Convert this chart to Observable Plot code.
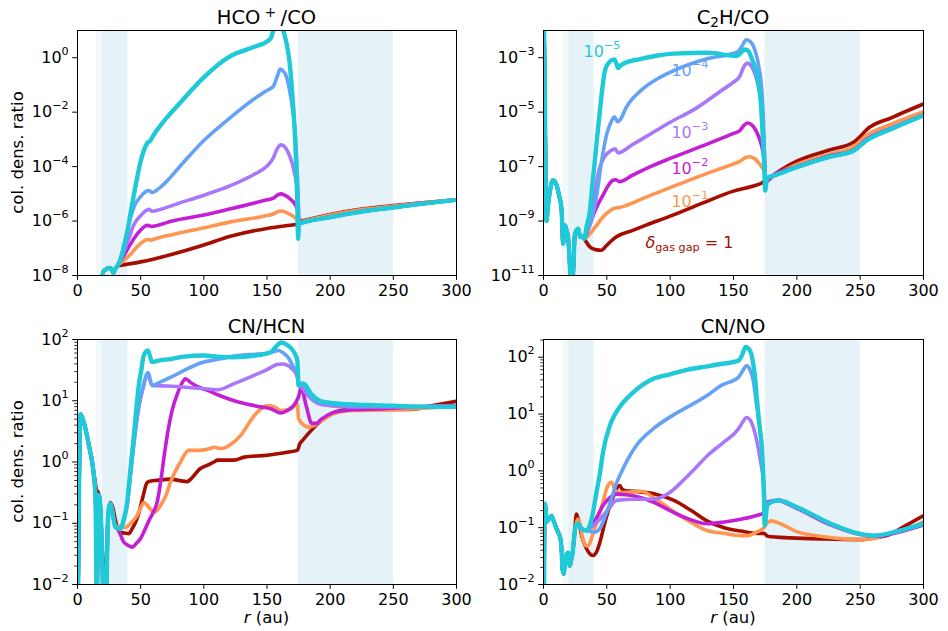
<!DOCTYPE html>
<html><head><meta charset="utf-8">
<script src="https://cdn.jsdelivr.net/npm/d3@7"></script>
<script src="https://cdn.jsdelivr.net/npm/@observablehq/plot@0.6"></script>
<style>
html,body{margin:0;padding:0;background:#fff}
#fig{position:relative;width:948px;height:631px;background:#fff;overflow:hidden;font-family:"DejaVu Sans"}
#fig svg{position:absolute}
</style></head><body><div id="fig"></div>
<script>
// ---- shared categories / styling lists ----
const deltaLabels = ["1", "1e-1", "1e-2", "1e-3", "1e-4", "1e-5"];
const colors = ["#a30e00", "#fe9651", "#c41fd4", "#a877fa", "#65a2f6", "#1ec9d8"];
const xTicks = [0, 50, 100, 150, 200, 250, 300];
const shoulderBand = [[15, 20]];
const gapBands = [[20, 40], [175, 250]];

// ---- values as [r (au), log10(column density ratio)] ----
// HCO+/CO
const hcoInner = [[19.5,-8.1],[20.5,-7.85],[23,-7.76],[26,-7.72],[28.5,-7.9],[30,-7.75],[31.5,-7.65]];
const hcoTail = [[180,-6.03],[200,-5.86],[225,-5.65],[250,-5.5],[275,-5.35],[300,-5.22]];
const hcoD1 = [[35,-7.62],[40,-7.58],[50,-7.5],[60,-7.4],[75,-7.22],[100,-6.88],[121,-6.56],[150,-6.27],[165,-6.17],[174,-6.12],[175,-6.02],[180,-5.97],[200,-5.76],[225,-5.56],[250,-5.43],[275,-5.32],[300,-5.22]];
const hcoD01 = [[36,-7.48],[42,-7.22],[47,-6.95],[52,-6.75],[55.5,-6.68],[58,-6.7],[61,-6.66],[75,-6.5],[100,-6.25],[121,-6.03],[150,-5.8],[155,-5.74],[159,-5.65],[162,-5.63],[166,-5.7],[170,-5.8],[173,-5.92],[175,-6.04],[180,-5.99],[200,-5.78],[225,-5.58],[250,-5.45],[275,-5.33],[300,-5.22]];
const hcoD001 = [[35,-7.4],[40,-7.0],[45,-6.62],[50,-6.33],[53,-6.2],[55.7,-6.16],[58.5,-6.2],[62,-6.17],[75,-6.0],[100,-5.78],[121,-5.55],[150,-5.22],[155,-5.16],[158.5,-5.04],[161,-5.0],[164,-5.05],[168,-5.18],[172,-5.37],[174.5,-5.65],[175.2,-6.05],[180,-6.02],[200,-5.84],[225,-5.64],[250,-5.5],[275,-5.35],[300,-5.22]];
const hcoD1e3 = [[35,-7.3],[40,-6.72],[45,-6.1],[50,-5.8],[54,-5.62],[56.5,-5.57],[59,-5.64],[65,-5.58],[80,-5.35],[100,-5.05],[121,-4.7],[140,-4.28],[150,-3.98],[155,-3.68],[158,-3.35],[161,-3.2],[164,-3.27],[167,-3.5],[170,-3.9],[172.5,-4.4],[174.5,-5.0],[175.3,-6.1]];
const hcoD1e4 = [[35,-7.2],[40,-6.23],[45,-5.45],[50,-5.1],[54,-4.92],[56.5,-4.88],[59,-4.95],[65,-4.78],[70,-4.57],[80,-4.05],[100,-3.04],[121,-2.2],[140,-1.51],[150,-1.2],[155,-1.05],[158,-0.7],[160.5,-0.42],[163,-0.5],[165,-0.65],[167.5,-1.1],[170,-1.81],[172.5,-2.92],[174.4,-4.75],[175.3,-6.1]];
const hcoD1e5 = [[34,-7.45],[37,-6.9],[39.5,-6.4],[42,-5.7],[44.6,-5.05],[47,-4.45],[50,-3.8],[53,-3.35],[55.5,-3.12],[57.5,-3.05],[60,-2.86],[70,-2.24],[80,-1.72],[100,-0.72],[120,0.03],[140,0.4],[150,0.6],[153,0.72],[155,1.0],[158,1.35],[161,1.35],[163,1.0],[168.5,-0.45],[170.4,-1.57],[172.5,-3.2],[173.9,-5.2],[174.7,-6.65],[175.3,-6.1]];

// C2H/CO
const c2hInner = [[0.3,-1.5],[1,-4],[1.8,-8.0],[2.4,-9.0],[3.5,-8.45],[5,-7.93],[7.5,-7.5],[10.3,-7.68],[12.5,-8.1],[14.2,-8.54],[15.5,-9.83],[16.8,-9.15],[18,-9.3],[19.5,-9.64],[21,-10.8],[22,-11.6],[23.5,-10.8],[24.7,-9.52],[26,-9.35],[27.5,-9.28],[28.8,-9.58],[30,-9.55],[32,-9.65]];
const c2hTail = [[176.5,-7.42],[182,-7.33],[200,-7.02],[225,-6.65],[245,-6.41],[255,-6.04],[275,-5.61],[300,-5.12]];
const c2hD1 = [[36.6,-9.95],[41,-10.05],[45.8,-10.07],[49.7,-9.9],[53,-9.75],[57.6,-9.58],[70,-9.35],[81,-9.15],[100,-8.82],[125,-8.35],[150,-7.9],[165,-7.72],[172,-7.61],[175,-7.52],[182,-7.3],[190,-7.05],[200,-6.8],[225,-6.4],[245,-6.1],[250,-5.9],[255,-5.65],[275,-5.2],[300,-4.7]];
const c2hD01 = [[37,-9.45],[42,-9.15],[48,-8.8],[53,-8.6],[56,-8.53],[60,-8.5],[81,-8.12],[100,-7.77],[125,-7.32],[150,-6.9],[155,-6.81],[159,-6.68],[163,-6.64],[167,-6.72],[171,-6.93],[174,-7.15],[175.5,-7.5],[182,-7.32],[200,-6.92],[225,-6.55],[245,-6.26],[255,-5.86],[275,-5.43],[300,-4.98]];
const c2hD001 = [[36,-9.2],[40,-8.7],[44,-8.3],[47,-8.05],[51,-7.7],[55,-7.5],[57,-7.48],[60,-7.55],[70,-7.32],[81,-7.07],[100,-6.7],[125,-6.25],[150,-5.78],[155,-5.68],[158,-5.5],[161,-5.4],[164,-5.45],[167,-5.62],[170,-5.92],[173,-6.4],[174.5,-6.9],[175.5,-7.55],[182,-7.3],[200,-7.0],[225,-6.62],[245,-6.38],[255,-6.0],[275,-5.58],[300,-5.1]];
const c2hD1e3 = [[35,-9.1],[38,-8.5],[41,-7.8],[44,-7.1],[48,-6.65],[52,-6.45],[55,-6.37],[56.5,-6.35],[59,-6.5],[62,-6.45],[70,-6.2],[81,-5.9],[100,-5.37],[120,-4.87],[140,-4.22],[150,-3.9],[155,-3.68],[158,-3.35],[161,-3.2],[164,-3.3],[167,-3.6],[170,-4.15],[172.5,-5.0],[174.5,-6.5],[175.5,-7.6]];
const c2hD1e4 = [[35,-9.3],[38,-8.95],[42,-8.05],[45.8,-6.82],[49.7,-5.85],[53,-5.4],[56,-5.17],[58.5,-5.35],[61,-5.25],[65,-4.85],[77,-4.2],[90,-3.77],[103,-3.47],[129,-3.04],[153,-2.79],[157,-2.55],[160,-2.34],[163,-2.4],[166,-2.6],[170,-3.34],[172.5,-4.3],[174,-5.8],[175,-7.88]];
const c2hD1e5 = [[34.5,-9.1],[36.6,-8.65],[38.5,-7.7],[40.5,-6.8],[42.5,-5.85],[44.5,-4.97],[46.5,-4.1],[48.4,-3.5],[50.5,-3.25],[52.4,-3.14],[55.8,-3.06],[57.5,-3.2],[59,-3.38],[61,-3.28],[64,-3.2],[77,-3.04],[90,-2.92],[103,-2.85],[129,-2.82],[153,-2.93],[156,-2.8],[158.5,-2.7],[161,-2.72],[165,-3.1],[169,-3.71],[171.5,-4.6],[173,-5.8],[174.3,-7.0],[175,-7.88]];
// in-panel labels of the C2H/CO panel
const c2hLabelText = ["10^−5", "10^−4", "10^−3", "10^−2", "10^−1", "δ_gas gap = 1"];
const c2hLabelR = [31.6, 101, 101, 101, 101, 80.5];
const c2hLabelExp = [-2.77, -3.5, -5.76, -7.07, -8.3, -9.79];
const c2hLabelSeries = [5, 4, 3, 2, 1, 0];

// CN/HCN
const cnhInner = [[0.4,-2.3],[1.2,-0.5],[2.4,0.78],[5,0.65],[9,0.27],[12.9,-0.22],[14.3,-0.6],[15.2,-2.3],[16,-1.5],[16.9,-0.54],[18,-0.7],[19.5,-1.5],[20.5,-2.3],[22.5,-2.3],[24,-1.0],[24.8,-0.76],[26,-0.68],[27.5,-0.8],[30,-1.06],[31.5,-1.08]];
const cnhD1 = [[0.4,-2.3],[1.2,-0.5],[2.4,0.78],[5,0.65],[9,0.3],[13,-0.18],[15,-0.45],[16.5,-0.5],[18,-0.75],[20,-1.6],[22,-1.9],[24,-1.0],[26,-0.66],[28,-0.75],[30,-0.95],[32,-1.1],[34,-1.15],[37,-1.16],[40.6,-1.17],[43,-1.1],[46,-0.98],[49,-0.8],[52,-0.55],[55,-0.34],[58,-0.31],[63,-0.3],[73.6,-0.28],[80,-0.3],[86.8,-0.32],[90,-0.27],[97,-0.11],[103,-0.05],[108,0.0],[111,0.03],[124,0.03],[132,0.08],[150,0.11],[166,0.16],[174,0.19],[176,0.3],[178,0.35],[190,0.62],[200,0.78],[216,0.86],[243,0.86],[264,0.86],[280,0.92],[300,0.99]];
const cnhD01 = [[32.7,-1.04],[38,-1.07],[42,-1.0],[47,-0.88],[50,-0.75],[52.5,-0.66],[56.5,-0.74],[60.4,-0.82],[63,-0.79],[65.7,-0.71],[70,-0.55],[73.6,-0.33],[81.5,0.0],[88,0.19],[97,0.19],[105,0.22],[108,0.24],[113.5,0.22],[124,0.33],[129,0.43],[140,0.76],[150,0.92],[156,0.9],[161,0.84],[169,0.87],[174,0.95],[175,0.71],[179.4,0.6],[183,0.57],[188,0.6],[193,0.67],[203,0.79],[216,0.84],[243,0.85],[269,0.87],[300,0.91]];
const cnhD001 = [[36.7,-1.31],[40,-1.36],[43.3,-1.39],[46.5,-1.33],[49.9,-1.25],[53,-1.12],[56.5,-0.96],[60,-0.82],[63,-0.66],[66,-0.3],[68.6,0.1],[71,0.43],[75,0.85],[79,1.11],[83,1.3],[85.5,1.36],[89.4,1.3],[95,1.23],[103,1.17],[112,1.09],[124,1.0],[145,0.9],[153,0.87],[161,0.8],[166,0.84],[173,0.98],[175.5,1.1],[177,1.22],[181,0.92],[185.5,0.63],[189,0.63],[193,0.7],[203,0.81],[216,0.85],[243,0.87],[269,0.9],[300,0.92]];
const cnhD1e3 = [[34,-1.09],[36.5,-0.95],[39.3,-0.7],[42,-0.2],[44.6,0.3],[48.5,0.9],[52.5,1.25],[55,1.44],[56,1.42],[59,1.25],[71,1.24],[98,1.2],[111,1.18],[124,1.28],[137,1.39],[150,1.51],[158,1.59],[162,1.6],[166,1.58],[170,1.52],[173,1.44],[175.5,1.28],[178,1.2],[185,1.03],[195,0.93],[216,0.9],[243,0.9],[269,0.9],[300,0.91]];
const cnhD1e4 = [[34,-1.09],[36.5,-0.95],[39.3,-0.7],[42,-0.2],[44.6,0.3],[48.5,0.9],[52.5,1.28],[55,1.44],[56,1.46],[59,1.25],[65,1.3],[73.6,1.38],[86.8,1.52],[98,1.62],[112,1.68],[124,1.73],[150,1.78],[155,1.8],[159,1.82],[163,1.78],[167,1.7],[171,1.55],[174,1.47],[175,1.25],[178,1.28],[185,1.06],[193,0.97],[216,0.92],[269,0.91],[300,0.91]];
const cnhD1e5 = [[34,-1.09],[36.5,-0.95],[39.3,-0.66],[42,-0.1],[44.6,0.43],[46.5,0.85],[48.5,1.25],[50.5,1.5],[52.5,1.74],[55.7,1.82],[57.5,1.72],[59,1.63],[65,1.66],[73.6,1.68],[84,1.72],[100,1.74],[111,1.72],[124,1.71],[145,1.75],[153,1.79],[157,1.88],[161,1.95],[166,1.91],[171.5,1.79],[174,1.66],[175,1.25],[177,1.28],[179,1.28],[185,1.11],[193,0.99],[203,0.96],[230,0.93],[250,0.92],[269,0.9],[300,0.9]];

// CN/NO
const cnoInner = [[0.4,-2.3],[0.8,-0.6],[1.2,-0.58],[2.4,-0.9],[5,-0.82],[6.3,-0.79],[8,-0.88],[10.3,-1.02],[13.4,-1.2],[14.3,-1.4],[15,-1.73],[16,-1.81],[17,-1.6],[18,-1.49],[19.5,-1.44],[20.8,-1.67],[22,-1.55],[23,-1.44],[24.5,-1.1]];
const cnoMid = [[25.5,-0.96],[27.4,-0.93],[30,-1.02],[34,-1.05]];
const cnoTail = [[176.5,-0.61],[180,-0.55],[185.7,-0.52],[200,-0.64],[226.7,-0.93],[250,-1.11],[261,-1.14],[280,-1.06],[300,-0.93]];
const cnoD1 = [[26,-0.76],[28,-0.9],[30,-1.13],[34,-1.37],[37,-1.47],[39.2,-1.49],[42,-1.42],[44.5,-1.26],[48,-0.95],[52.4,-0.61],[56,-0.4],[58,-0.3],[60.3,-0.26],[62,-0.32],[65,-0.35],[76.8,-0.37],[90,-0.42],[103,-0.52],[116,-0.69],[129,-0.88],[142.6,-1.0],[155.8,-1.06],[169,-1.1],[174,-1.1],[177,-1.15],[195,-1.18],[221.6,-1.2],[250,-1.21],[261,-1.18],[271,-1.14],[287,-0.95],[300,-0.79]];
const cnoD01 = [[27,-0.85],[29,-0.95],[31,-1.2],[34,-1.32],[36,-1.3],[38,-1.18],[41,-0.98],[44.5,-0.73],[47,-0.55],[49.7,-0.32],[52,-0.22],[53.7,-0.2],[55.5,-0.28],[57.6,-0.38],[63,-0.38],[76.8,-0.36],[90,-0.52],[103,-0.72],[116,-0.9],[129,-1.05],[142.6,-1.1],[155.8,-1.14],[161,-1.14],[169,-1.07],[174,-1.0],[176,-0.93],[179.2,-0.88],[187,-0.93],[200,-1.07],[221.6,-1.16],[250,-1.21],[261,-1.19],[274,-1.1],[287,-1.02],[300,-0.9]];
const cnoD001 = [[40,-0.9],[47,-0.61],[52,-0.48],[57.6,-0.41],[65,-0.42],[73.4,-0.45],[86.6,-0.55],[100,-0.7],[111.6,-0.82],[129.5,-0.93],[142.6,-0.9],[155.8,-0.85],[169,-0.78],[174,-0.74],[175,-0.7],[176.5,-0.55],[184.4,-0.52],[200,-0.66],[226.7,-0.95],[250,-1.12],[263.6,-1.15],[280,-1.08],[300,-0.95]];
const cnoD1e3 = [[40,-0.95],[47,-0.79],[52,-0.65],[57.6,-0.52],[73.4,-0.5],[86.6,-0.5],[99.7,-0.38],[111.6,-0.14],[120,0.05],[129.5,0.27],[142.6,0.51],[154,0.74],[157,0.85],[160.3,0.94],[163,0.9],[166,0.74],[171,0.21],[174,-0.26],[175,-0.6],[176.5,-0.58],[185.7,-0.52],[200,-0.64],[226.7,-0.93],[250,-1.11],[261,-1.14],[280,-1.06],[300,-0.93]];
const cnoD1e4 = [[40.5,-1.08],[44,-1.03],[47,-0.9],[50,-0.72],[53.7,-0.49],[57,-0.25],[60.3,-0.08],[66,0.18],[73.4,0.45],[86.6,0.74],[100,0.95],[111.6,1.1],[129.5,1.33],[140,1.5],[154,1.65],[157,1.75],[160.3,1.85],[163,1.78],[165.5,1.6],[168,1.2],[170.5,0.8],[172.6,0.33],[174,-0.4],[174.7,-0.96]];
const cnoD1e5 = [[38,-0.85],[41.8,-0.38],[44.5,-0.05],[47,0.33],[52.4,0.8],[56,0.98],[60,1.12],[70.8,1.38],[86.6,1.62],[100,1.7],[111.6,1.77],[129.5,1.84],[139.7,1.88],[154,1.94],[157,2.05],[159.5,2.18],[162,2.15],[164.7,2.0],[166.7,1.7],[168.7,1.21],[170.5,0.8],[172.6,0.33],[174,-0.4],[174.7,-0.96]];

// ---- assemble series (order: delta = 1, 1e-1, ..., 1e-5) ----
const hcoSeries = [
  [...hcoInner, ...hcoD1], [...hcoInner, ...hcoD01], [...hcoInner, ...hcoD001],
  [...hcoInner, ...hcoD1e3, ...hcoTail], [...hcoInner, ...hcoD1e4, ...hcoTail], [...hcoInner, ...hcoD1e5, ...hcoTail]
];
const c2hSeries = [
  [...c2hInner, ...c2hD1], [...c2hInner, ...c2hD01], [...c2hInner, ...c2hD001],
  [...c2hInner, ...c2hD1e3, ...c2hTail], [...c2hInner, ...c2hD1e4, ...c2hTail], [...c2hInner, ...c2hD1e5, ...c2hTail]
];
const cnhSeries = [
  cnhD1, [...cnhInner, ...cnhD01], [...cnhInner, ...cnhD001],
  [...cnhInner, ...cnhD1e3], [...cnhInner, ...cnhD1e4], [...cnhInner, ...cnhD1e5]
];
const cnoSeries = [
  [...cnoInner, ...cnoD1], [...cnoInner, ...cnoD01], [...cnoInner, ...cnoMid, ...cnoD001],
  [...cnoInner, ...cnoMid, ...cnoD1e3], [...cnoInner, ...cnoMid, ...cnoD1e4, ...cnoTail], [...cnoInner, ...cnoMid, ...cnoD1e5, ...cnoTail]
];

const minorTicks = (lo, hi) => {
  const out = [];
  for (let e = lo; e < hi; e++) for (let m = 2; m <= 9; m++) out.push(m * 10 ** e);
  return out;
};

function rich(textEl, parts, size) {
  const sel = d3.select(textEl);
  sel.text("");
  let shift = 0;
  for (const p of parts) {
    const ts = sel.append("tspan").text(p.t);
    let target = 0;
    if (p.sup) { target = -size * p.sup; ts.attr("font-size", size * 0.7); }
    else if (p.sub) { target = size * p.sub; ts.attr("font-size", size * 0.7); }
    if (p.italic) ts.attr("font-style", "italic");
    if (target !== shift) { ts.attr("dy", target - shift); shift = target; }
  }
}
function fixLabels(svg) {
  d3.select(svg).selectAll("text").each(function () {
    const t = this.textContent;
    const m = /^10\^(−?\d+)$/.exec(t);
    if (m) rich(this, [{t: "10"}, {t: m[1], sup: 0.5}], 16);
    else if (t === "δ_gas gap = 1") rich(this, [{t: "δ", italic: true}, {t: "gas gap", sub: 0.2}, {t: " = 1"}], 16);
  });
}

function makePanel(cfg) {
  const marks = [
    Plot.rect(shoulderBand, {x1: d => d[0], x2: d => d[1], fill: "#add8e6", fillOpacity: 0.15}),
    Plot.rect(gapBands, {x1: d => d[0], x2: d => d[1], fill: "#add8e6", fillOpacity: 0.32})
  ];
  cfg.series.forEach((pts, i) => {
    marks.push(Plot.line(pts, {
      x: d => d[0], y: d => 10 ** d[1], stroke: colors[i], strokeWidth: i === 5 ? 4.4 : 3.6,
      curve: "monotone-x", clip: true, strokeLinejoin: "round"
    }));
  });
  if (cfg.labels) {
    cfg.labels.text.forEach((t, k) => {
      marks.push(Plot.text([k], {
        x: () => cfg.labels.r[k], y: () => 10 ** cfg.labels.exp[k], text: () => t,
        fill: colors[cfg.labels.series[k]], textAnchor: "start", fontSize: 16
      }));
    });
  }
  marks.push(Plot.frame({stroke: "black", strokeWidth: 1}));
  if (cfg.minor) marks.push(Plot.axisY({ticks: cfg.minor, tickSize: 2.8, tickFormat: () => "", label: null, strokeWidth: 0.8}));
  marks.push(Plot.axisY({ticks: cfg.yTicks, tickSize: 4.8, tickPadding: 4, label: null,
    tickFormat: d => "10^" + String(Math.round(Math.log10(d))).replace("-", "−")}));
  marks.push(Plot.axisX({ticks: xTicks, tickSize: 4.8, tickPadding: 4, label: null, tickFormat: d => String(d)}));

  const svg = Plot.plot({
    width: 474, height: cfg.height,
    marginLeft: cfg.ml, marginRight: cfg.mr, marginTop: cfg.mt, marginBottom: cfg.mb,
    x: {domain: [0, 300]},
    y: {type: "log", domain: cfg.yDomain},
    style: {fontFamily: "DejaVu Sans", fontSize: "16px", background: "transparent", overflow: "visible", color: "black"},
    marks
  });
  svg.style.left = cfg.left + "px";
  svg.style.top = cfg.top + "px";
  fixLabels(svg);
  const s = d3.select(svg);
  const cx = cfg.ml + (474 - cfg.ml - cfg.mr) / 2;
  const title = s.append("text").attr("x", cx).attr("y", cfg.titleY).attr("text-anchor", "middle")
    .attr("font-size", 19.5).attr("fill", "black");
  rich(title.node(), cfg.title, 19.5);
  if (cfg.ylabel) {
    const cy = cfg.mt + (cfg.height - cfg.mt - cfg.mb) / 2;
    s.append("text").attr("transform", `translate(22.7,${cy}) rotate(-90)`).attr("text-anchor", "middle")
      .attr("font-size", 16.5).attr("fill", "black").text("col. dens. ratio");
  }
  if (cfg.xlabel) {
    const xl = s.append("text").attr("x", cx).attr("y", cfg.height - 8).attr("text-anchor", "middle")
      .attr("font-size", 16.5).attr("fill", "black");
    rich(xl.node(), [{t: "r", italic: true}, {t: " (au)"}], 16.5);
  }
  document.getElementById("fig").appendChild(svg);
}

makePanel({series: hcoSeries, yDomain: [1e-8, 1e1], yTicks: [1e-8, 1e-6, 1e-4, 1e-2, 1],
  left: 0, top: 0, height: 315, ml: 77, mr: 18, mt: 30, mb: 40, titleY: 24, ylabel: true,
  title: [{t: "HCO"}, {t: "\u00A0+\u00A0", sup: 0.36}, {t: "/CO"}]});
makePanel({series: c2hSeries, yDomain: [1e-11, 1e-2], yTicks: [1e-11, 1e-9, 1e-7, 1e-5, 1e-3],
  left: 474, top: 0, height: 315, ml: 69, mr: 25, mt: 30, mb: 40, titleY: 24,
  title: [{t: "C"}, {t: "2", sub: 0.15}, {t: "H/CO"}],
  labels: {text: c2hLabelText, r: c2hLabelR, exp: c2hLabelExp, series: c2hLabelSeries}});
makePanel({series: cnhSeries, yDomain: [1e-2, 1e2], yTicks: [1e-2, 1e-1, 1, 1e1, 1e2], minor: minorTicks(-2, 2),
  left: 0, top: 315, height: 316, ml: 77, mr: 18, mt: 24, mb: 47, titleY: 18.3, ylabel: true, xlabel: true,
  title: [{t: "CN/HCN"}]});
makePanel({series: cnoSeries, yDomain: [1e-2, 205], yTicks: [1e-2, 1e-1, 1, 1e1, 1e2], minor: minorTicks(-2, 3).filter(v => v <= 205),
  left: 474, top: 315, height: 316, ml: 69, mr: 25, mt: 24, mb: 47, titleY: 18.3, xlabel: true,
  title: [{t: "CN/NO"}]});
</script></body></html>
